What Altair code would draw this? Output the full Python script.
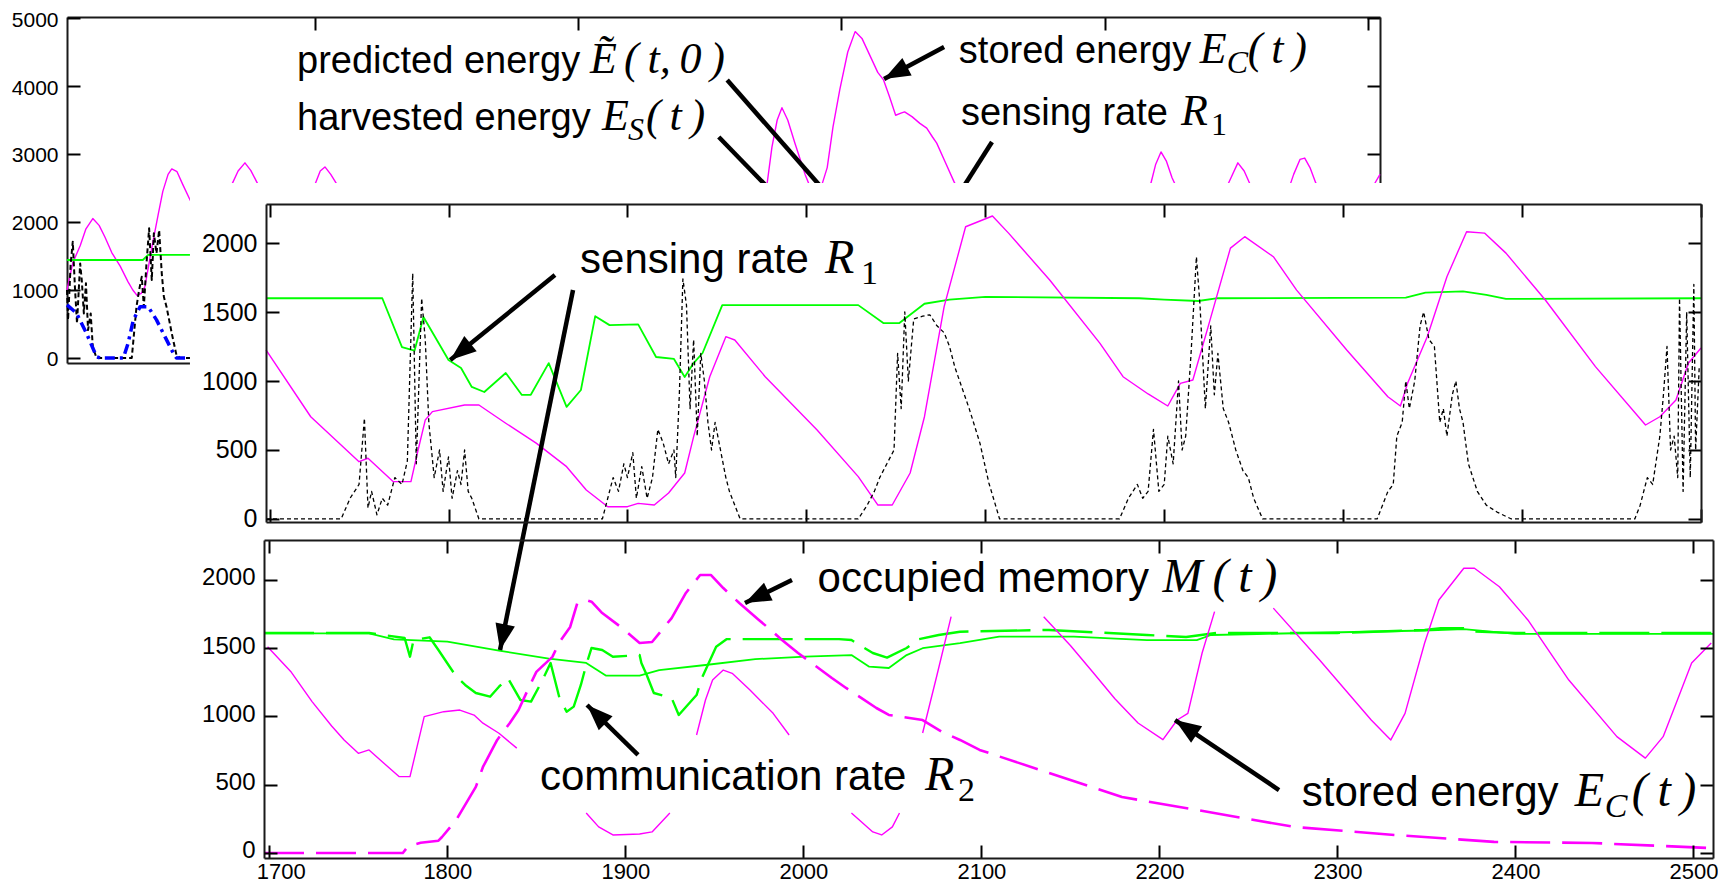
import altair as alt
import pandas as pd

W, H = 1710, 878
SANS = "Liberation Sans"
SERIF = "Liberation Serif"
MAG, GRN, BLU, BLK = "#ff00ff", "#00ff00", "#0000ff", "#000000"
ARROW = "M0,0L0.38,1L-0.38,1Z"

# ---------------- back (overview) panel data: (time, value) ----------------
back_ec = [(29,1000),(40,1400),(54,1650),(65,1900),(78,2050),(90,1950),(101,1780),(114,1550),(130,1350),(145,1120),
           (154,1000),(162,920),(170,950),(177,1050),(185,1400),(192,1700),(202,2100),(211,2450),(221,2700),(228,2780),
           (238,2740),(249,2550),(263,2320),(282,2150),(310,2200),(342,2550),(354,2750),(367,2870),(378,2760),(392,2550),
           (415,2200),(472,2100),(500,2550),(510,2750),(519,2810),(530,2700),(542,2550),(567,2200),(700,1700),(946,1500),
           (1100,1650),(1231,1800),(1345,2400),(1359,2573),(1368,3100),(1378,3500),(1387,3680),(1398,3500),(1412,3150),
           (1431,2700),(1444,2450),(1459,2450),(1473,2800),(1484,3400),(1497,3950),(1512,4500),(1526,4800),(1539,4700),
           (1554,4450),(1569,4200),(1580,4090),(1591,3850),(1603,3570),(1613,3600),(1620,3620),(1634,3550),(1649,3450),
           (1662,3380),(1673,3250),(1681,3160),(1696,2900),(1714,2590),(1734,2300),(1801,2000),(1991,2200),(2076,2500),
           (2088,2573),(2097,2850),(2107,3030),(2117,2900),(2128,2650),(2143,2400),(2181,2300),(2228,2450),(2240,2650),
           (2253,2870),(2265,2750),(2276,2560),(2314,2350),(2348,2450),(2359,2700),(2371,2920),(2380,2940),(2390,2800),
           (2401,2573),(2428,2300),(2485,2350),(2508,2500),(2523,2700)]
back_r1 = [(29,1441),(173,1441),(183,1515),(2523,1515)]
back_es = [(29,1000),(31,560),(36,1390),(40,1710),(44,1050),(48,510),(54,1390),(57,1150),(61,655),(65,1100),(69,410),
           (74,655),(78,166),(85,0),(152,0),(154,166),(161,755),(166,1000),(171,1196),(175,755),(180,1392),(185,1907),
           (190,1147),(194,1833),(199,1540),(204,1880),(209,1245),(213,900),(218,755),(223,560),(228,363),(232,216),
           (237,40),(244,0),(2523,0)]
back_pe = [(29,780),(47,660),(66,363),(85,20),(92,0),(136,0),(145,216),(155,560),(168,755),(183,755),(199,560),
           (215,314),(231,69),(237,0),(2523,0)]

# ---------------- middle panel data ----------------
mid_r1 = [(1698,1600),(1763,1600),(1774,1246),(1781,1220),(1786,1464),(1800,1152),(1807,1094),(1813,957),(1820,920),
          (1832,1058),(1841,899),(1846,900),(1856,1130),(1866,812),(1874,935),(1882,1470),(1890,1405),(1906,1410),
          (1916,1174),(1926,1160),(1932,1029),(1937,1130),(1942,1203),(1953,1550),(2029,1550),(2043,1420),(2052,1420),
          (2058,1480),(2066,1560),(2080,1590),(2100,1610),(2186,1600),(2200,1590),(2219,1580),(2230,1600),(2335,1605),
          (2346,1640),(2367,1650),(2380,1625),(2391,1595),(2500,1600)]
mid_ec_t = [1698,1723,1750,1755,1769,1779,1783,1787,1791,1809,1817,1832,1849,1866,1877,1889,1900,1906,1915,1923,
            1932,1937,1946,1955,1960,1977,2006,2029,2040,2048,2058,2066,2077,2089,2104,2113,2136,2164,2177,2191,
            2202,2209,2216,2224,2237,2245,2261,2274,2302,2325,2332,2336,2347,2358,2369,2379,2391,2413,2441,2469,
            2477,2486,2493,2500]
mid_ec_v = [1225,741,415,440,271,271,500,717,778,826,826,694,550,379,210,89,89,113,101,188,
            333,597,1031,1321,1297,1031,645,307,101,101,333,741,1539,2118,2196,2072,1732,1275,1031,906,
            819,983,1007,1369,1963,2046,1901,1659,1225,886,819,983,1321,1756,2082,2072,1927,1587,1104,681,
            741,862,1130,1239]
mid_es = [(1698,0),(1740,0),(1745,150),(1750,250),(1753,730),(1755,80),(1757,200),(1760,30),(1763,150),(1766,100),
          (1770,300),(1774,250),(1777,420),(1780,1780),(1782,400),(1785,1600),(1787,1300),(1789,700),(1792,300),
          (1795,500),(1797,200),(1800,450),(1802,150),(1805,350),(1807,250),(1809,500),(1811,200),(1813,150),(1817,0),
          (1886,0),(1889,150),(1892,300),(1895,200),(1898,400),(1900,300),(1903,480),(1905,150),(1908,380),(1911,150),
          (1914,300),(1917,650),(1920,550),(1923,400),(1926,500),(1927,300),(1929,900),(1931,1740),(1933,1550),
          (1935,800),(1937,1300),(1939,600),(1941,1200),(1943,1000),(1945,700),(1947,500),(1949,700),(1952,500),
          (1955,300),(1957,200),(1960,100),(1963,0),(2029,0),(2034,100),(2038,200),(2041,300),(2045,400),(2049,500),
          (2051,1200),(2053,800),(2055,1500),(2057,1000),(2060,1450),(2065,1470),(2069,1480),(2073,1400),(2077,1350),
          (2080,1250),(2083,1100),(2087,950),(2091,800),(2097,550),(2102,261),(2108,0),(2175,0),(2180,150),(2185,250),
          (2188,150),(2191,200),(2194,650),(2197,200),(2200,250),(2202,600),(2205,400),(2208,1000),(2210,500),
          (2212,600),(2215,1200),(2218,1900),(2220,1550),(2223,800),(2226,1400),(2228,900),(2230,1200),(2233,800),
          (2236,700),(2240,500),(2244,350),(2247,300),(2250,150),(2255,0),(2319,0),(2322,100),(2325,200),(2328,250),
          (2330,600),(2333,700),(2335,1000),(2337,800),(2340,1000),(2343,1400),(2345,1500),(2348,1300),(2351,1250),
          (2354,700),(2356,800),(2358,600),(2361,900),(2363,1000),(2365,800),(2367,700),(2370,400),(2375,200),
          (2380,100),(2386,50),(2394,0),(2463,0),(2466,100),(2470,300),(2473,250),(2477,600),(2479,900),(2481,1250),
          (2483,500),(2485,600),(2487,300),(2488,1600),(2490,200),(2492,1500),(2494,300),(2496,1700),(2497,500),
          (2499,1100)]

# ---------------- bottom panel data ----------------
bot_r1 = [(1697,1609),(1756,1609),(1770,1565),(1800,1548),(1829,1482),(1857,1424),(1878,1392),(1889,1300),(1908,1300),
          (1919,1340),(1945,1377),(1973,1420),(2001,1438),(2027,1450),(2037,1365),(2048,1355),(2058,1450),(2067,1500),
          (2088,1538),(2110,1585),(2152,1585),(2193,1560),(2221,1560),(2229,1597),(2255,1604),(2349,1630),(2371,1640),
          (2400,1605),(2511,1605)]
bot_r2 = [(1697,1612),(1756,1612),(1776,1575),(1779,1438),(1781,1560),(1790,1580),(1795,1487),(1805,1292),(1810,1231),
          (1816,1172),(1824,1145),(1829,1218),(1834,1282),(1841,1121),(1847,1109),(1853,1255),(1858,1392),(1863,1135),
          (1867,1035),(1871,1072),(1875,1231),(1878,1377),(1881,1502),(1887,1487),(1893,1438),(1908,1450),(1909,1392),
          (1912,1304),(1916,1172),(1926,1135),(1930,1011),(1940,1157),(1943,1282),(1951,1511),(1957,1567),(1992,1567),
          (2020,1567),(2027,1560),(2039,1465),(2047,1431),(2058,1502),(2065,1567),(2076,1597),(2088,1621),(2138,1634),
          (2193,1597),(2215,1582),(2232,1612),(2300,1612),(2349,1634),(2358,1646),(2371,1646),(2377,1622),(2400,1612),
          (2511,1612)]
bot_m = [(1697,0),(1775,0),(1778,50),(1785,75),(1795,90),(1797,117),(1805,242),(1816,484),(1820,630),(1828,828),
         (1835,951),(1840,1047),(1846,1218),(1850,1327),(1859,1437),(1863,1546),(1869,1656),(1873,1831),(1878,1853),
         (1881,1841),(1887,1758),(1898,1650),(1908,1538),(1915,1546),(1926,1721),(1934,1905),(1942,2037),(1948,2037),
         (1955,1941),(1964,1831),(1975,1707),(1983,1619),(1988,1560),(1997,1465),(2016,1282),(2024,1209),(2041,1062),
         (2048,1011),(2067,974),(2078,886),(2088,828),(2099,755),(2138,586),(2179,410),(2221,315),(2276,190),(2332,132),
         (2388,81),(2443,73),(2508,37)]
bot_ec_segments = [
    [(1699,1511),(1712,1330),(1724,1109),(1735,930),(1742,828),(1750,730),(1756,755),(1765,650),(1773,559),(1779,559),
     (1783,779),(1787,999),(1798,1035),(1807,1047),(1815,1010),(1820,951),(1829,877),(1839,768)],
    [(1878,293),(1885,191),(1893,132),(1908,139),(1915,154),(1925,293)],
    [(1940,864),(1945,1121),(1949,1267),(1955,1340),(1960,1316),(1970,1194),(1983,1023),(1992,864)],
    [(2027,293),(2039,154),(2044,132),(2050,191),(2054,293)],
    [(2067,879),(2075,1300),(2083,1731)],
    [(2135,1731),(2150,1520),(2163,1318),(2175,1130),(2188,952),(2202,830),(2210,974),(2216,1023),(2224,1465),(2231,1768)],
    [(2264,1794),(2290,1414),(2319,974),(2330,828),(2338,1023),(2349,1538),(2357,1853),(2371,2086),(2377,2086),
     (2391,1950),(2407,1707),(2430,1267),(2457,852),(2473,695),(2483,852),(2491,1121),(2499,1392),(2510,1538)],
]

# ticks
back_xticks = [500, 1000, 1500, 2000, 2500]
back_yticks = [0, 1000, 2000, 3000, 4000, 5000]
t_ticks = [1700, 1800, 1900, 2000, 2100, 2200, 2300, 2400, 2500]
v_ticks = [0, 500, 1000, 1500, 2000]

# annotation anchors (panel data coordinates) and arrows (tail -> tip, head angle)
back_anchor = {"pred": (466, 4191), "harv": (466, 3353), "stor": (1723, 4338), "sens": (1727, 3426)}
back_arrows = [(1283, 4088, 1488, 2279, 0, False), (1267, 3250, 1383, 2324, 0, False),
               (1786, 3176, 1716, 2324, 0, False), (1695, 4574, 1581, 4103, 241.9, True)]
mid_anchor = {"sens": (1873.5, 1783)}
mid_arrows = [(1859.5, 1768, 1801, 1152, 231.0, True)]
bot_anchor = {"occ": (2008, 1912), "comm": (1852, 461), "stor": (2280, 344)}
bot_arrows = [(1870.6, 4125, 1829.6, 1487, 191.5, True), (1993.6, 2000, 1967.2, 1831, 243.9, True),
              (1907.1, 718, 1878.5, 1084, 314.4, True), (2267.2, 461, 2208.8, 974, 304.0, True)]
cover = [(1655.5, 2435, 2510, -80)]

# text fragments: (text, dx, dy, size, font, style)
back_frags = {
    "pred": [("predicted energy", 0, 0, 38, SANS, ""), ("Ẽ", 293, 0, 44, SERIF, "italic"),
             ("(\u2009t,\u20090\u2009)", 327, 0, 44, SERIF, "italic")],
    "harv": [("harvested energy", 0, 0, 38, SANS, ""), ("E", 305, 0, 44, SERIF, "italic"),
             ("S", 331, 10, 32, SERIF, "italic"), ("(\u2009t\u2009)", 349, 0, 44, SERIF, "italic")],
    "stor": [("stored energy", 0, 0, 38, SANS, ""), ("E", 241, 0, 44, SERIF, "italic"),
             ("C", 268, 10, 32, SERIF, "italic"), ("(\u2009t\u2009)", 289, 0, 44, SERIF, "italic")],
    "sens": [("sensing rate", 0, 0, 38, SANS, ""), ("R", 220, 0, 44, SERIF, "italic"),
             ("1", 250, 10, 32, SERIF, "")],
}
mid_frags = {
    "sens": [("sensing rate", 0, 0, 42, SANS, ""), ("R", 245, 0, 48, SERIF, "italic"),
             ("1", 281, 11, 34, SERIF, "")],
}
bot_frags = {
    "occ": [("occupied memory", 0, 0, 42, SANS, ""), ("M", 345, 0, 48, SERIF, "italic"),
            ("(\u2009t\u2009)", 395, 0, 48, SERIF, "italic")],
    "comm": [("communication rate", 0, 0, 42, SANS, ""), ("R", 385, 0, 48, SERIF, "italic"),
             ("2", 418, 11, 34, SERIF, "")],
    "stor": [("stored energy", 0, 0, 42, SANS, ""), ("E", 273, 0, 48, SERIF, "italic"),
             ("C", 303, 11, 34, SERIF, "italic"), ("(\u2009t\u2009)", 330, 0, 48, SERIF, "italic")],
}

# ---------------- scales (panel placement) ----------------
bx = alt.Scale(domain=[29, 2523], range=[59, 1372], zero=False, nice=False)
by = alt.Scale(domain=[-74, 5015], range=[355, 9], zero=False, nice=False)
mx = alt.Scale(domain=[1698, 2500], range=[258, 1693], zero=False, nice=False)
my = alt.Scale(domain=[-22, 2283], range=[514, 196], zero=False, nice=False)
ox = alt.Scale(domain=[1697, 2511], range=[256, 1705], zero=False, nice=False)
oy = alt.Scale(domain=[-37, 2293], range=[850, 532], zero=False, nice=False)


def axis(orient, offset, values, labels=False, ticks=True, domain=True, z=0, font=25, tick=13, pad=9,
         loff=0, flush=False, flush_off=0):
    kw = dict(orient=orient, offset=offset, values=values, title=None, grid=False, labels=labels,
              ticks=ticks, domain=domain, domainColor="#1a1a1a", domainWidth=2, tickColor=BLK,
              tickWidth=2, tickSize=tick if ticks else 0, zindex=z)
    if labels:
        kw.update(labelFont=SANS, labelFontSize=font, labelColor=BLK, labelFlush=flush,
                  labelFlushOffset=flush_off, labelOverlap=False, labelPadding=pad, format="d",
                  labelOffset=loff)
    return alt.Axis(**kw)


def line(pairs, sx, sy, color, width, dash=None, ax_x=None, ax_y=None):
    d = pd.DataFrame(pairs, columns=["t", "v"])
    kw = dict(color=color, strokeWidth=width, strokeJoin="round")
    if dash:
        kw["strokeDash"] = dash
    return alt.Chart(d).mark_line(**kw).encode(
        x=alt.X("t:Q", scale=sx, axis=ax_x), y=alt.Y("v:Q", scale=sy, axis=ax_y))


def segments(segs, sx, sy, color, width, ax_x=None, ax_y=None):
    rows = [(i, t, v) for i, s in enumerate(segs) for (t, v) in s]
    d = pd.DataFrame(rows, columns=["seg", "t", "v"])
    return alt.Chart(d).mark_line(color=color, strokeWidth=width, strokeJoin="round").encode(
        x=alt.X("t:Q", scale=sx, axis=ax_x), y=alt.Y("v:Q", scale=sy, axis=ax_y), detail="seg:N")


def arrows(rows, sx, sy):
    d = pd.DataFrame(rows, columns=["x", "y", "x2", "y2", "ang", "head"])
    out = [alt.Chart(d).mark_rule(color=BLK, strokeWidth=4.5).encode(
        x=alt.X("x:Q", scale=sx, axis=None), y=alt.Y("y:Q", scale=sy, axis=None), x2="x2:Q", y2="y2:Q")]
    hd = d[d["head"]]
    if len(hd):
        out.append(alt.Chart(hd).mark_point(shape=ARROW, filled=True, color=BLK, opacity=1, size=2704,
                                            strokeWidth=0).encode(
            x=alt.X("x2:Q", scale=sx, axis=None), y=alt.Y("y2:Q", scale=sy, axis=None),
            angle=alt.Angle("ang:Q", scale=None)))
    return out


def notes(anchors, frags, sx, sy):
    out = []
    for key, pieces in frags.items():
        x, y = anchors[key]
        for text, dx, dy, size, family, style in pieces:
            d = pd.DataFrame({"x": [x], "y": [y], "label": [text]})
            kw = dict(align="left", baseline="alphabetic", dx=dx, dy=dy, fontSize=size, font=family, color=BLK)
            if style:
                kw["fontStyle"] = style
            out.append(alt.Chart(d).mark_text(**kw).encode(
                x=alt.X("x:Q", scale=sx, axis=None), y=alt.Y("y:Q", scale=sy, axis=None), text="label:N"))
    return out


# ---------------- back panel ----------------
back = alt.layer(
    line(back_ec, bx, by, MAG, 1.4, ax_x=axis("bottom", 9 - H, back_xticks),
         ax_y=axis("left", -59, back_yticks, labels=True, ticks=False, font=21, loff=2)),
    line(back_r1, bx, by, GRN, 1.8, ax_x=axis("top", -355, back_xticks),
         ax_y=axis("right", 59 - W, back_yticks, domain=False)),
    line(back_es, bx, by, BLK, 2.0, dash=[5, 3], ax_y=axis("left", -1372, back_yticks)),
    line(back_pe, bx, by, BLU, 3.5, dash=[10, 5, 3, 5]),
    *arrows(back_arrows, bx, by),
    *notes(back_anchor, back_frags, bx, by),
).resolve_axis(x="independent", y="independent")

# ---------------- middle panel ----------------
cov = pd.DataFrame(cover, columns=["x", "y", "x2", "y2"])
mid = alt.layer(
    alt.Chart(cov).mark_rect(fill="white", stroke=None).encode(
        x=alt.X("x:Q", scale=mx, axis=None), y=alt.Y("y:Q", scale=my, axis=None), x2="x2:Q", y2="y2:Q"),
    line(mid_r1, mx, my, GRN, 1.8, ax_x=axis("bottom", 196 - H, t_ticks, z=1),
         ax_y=axis("left", -258, v_ticks, labels=True, ticks=False, z=1)),
    line(list(zip(mid_ec_t, mid_ec_v)), mx, my, MAG, 1.4, ax_x=axis("top", -514, t_ticks, z=1),
         ax_y=axis("right", 258 - W, v_ticks, domain=False, z=1)),
    line(mid_es, mx, my, BLK, 1.3, dash=[4, 3], ax_y=axis("left", -1693, v_ticks, z=1)),
    *arrows(mid_arrows, mx, my),
    *notes(mid_anchor, mid_frags, mx, my),
).resolve_axis(x="independent", y="independent")

# ---------------- bottom panel ----------------
bot = alt.layer(
    line(bot_r1, ox, oy, GRN, 1.8, ax_x=axis("bottom", 532 - H, t_ticks, z=1),
         ax_y=axis("left", -256, v_ticks, labels=True, ticks=False, font=24, z=1, loff=-2)),
    line(bot_r2, ox, oy, GRN, 2.4, dash=[50, 12], ax_x=axis("top", -850, t_ticks, z=1),
         ax_y=axis("right", 256 - W, v_ticks, domain=False, z=1)),
    segments(bot_ec_segments, ox, oy, MAG, 1.4,
             ax_x=axis("bottom", 850 - H, t_ticks, labels=True, ticks=False, domain=False, pad=3,
                       font=22, z=1, flush=8, flush_off=13),
             ax_y=axis("left", -1705, v_ticks, z=1)),
    line(bot_m, ox, oy, MAG, 2.6, dash=[40, 12]),
    *arrows(bot_arrows, ox, oy),
    *notes(bot_anchor, bot_frags, ox, oy),
).resolve_axis(x="independent", y="independent")

chart = alt.layer(back, mid, bot).resolve_scale(x="independent", y="independent").properties(
    width=W, height=H, autosize=alt.AutoSizeParams(type="none"), padding=0, background="white"
).configure_view(stroke=None)

chart.save("out.html", embed_options={"renderer": "svg", "actions": False})
